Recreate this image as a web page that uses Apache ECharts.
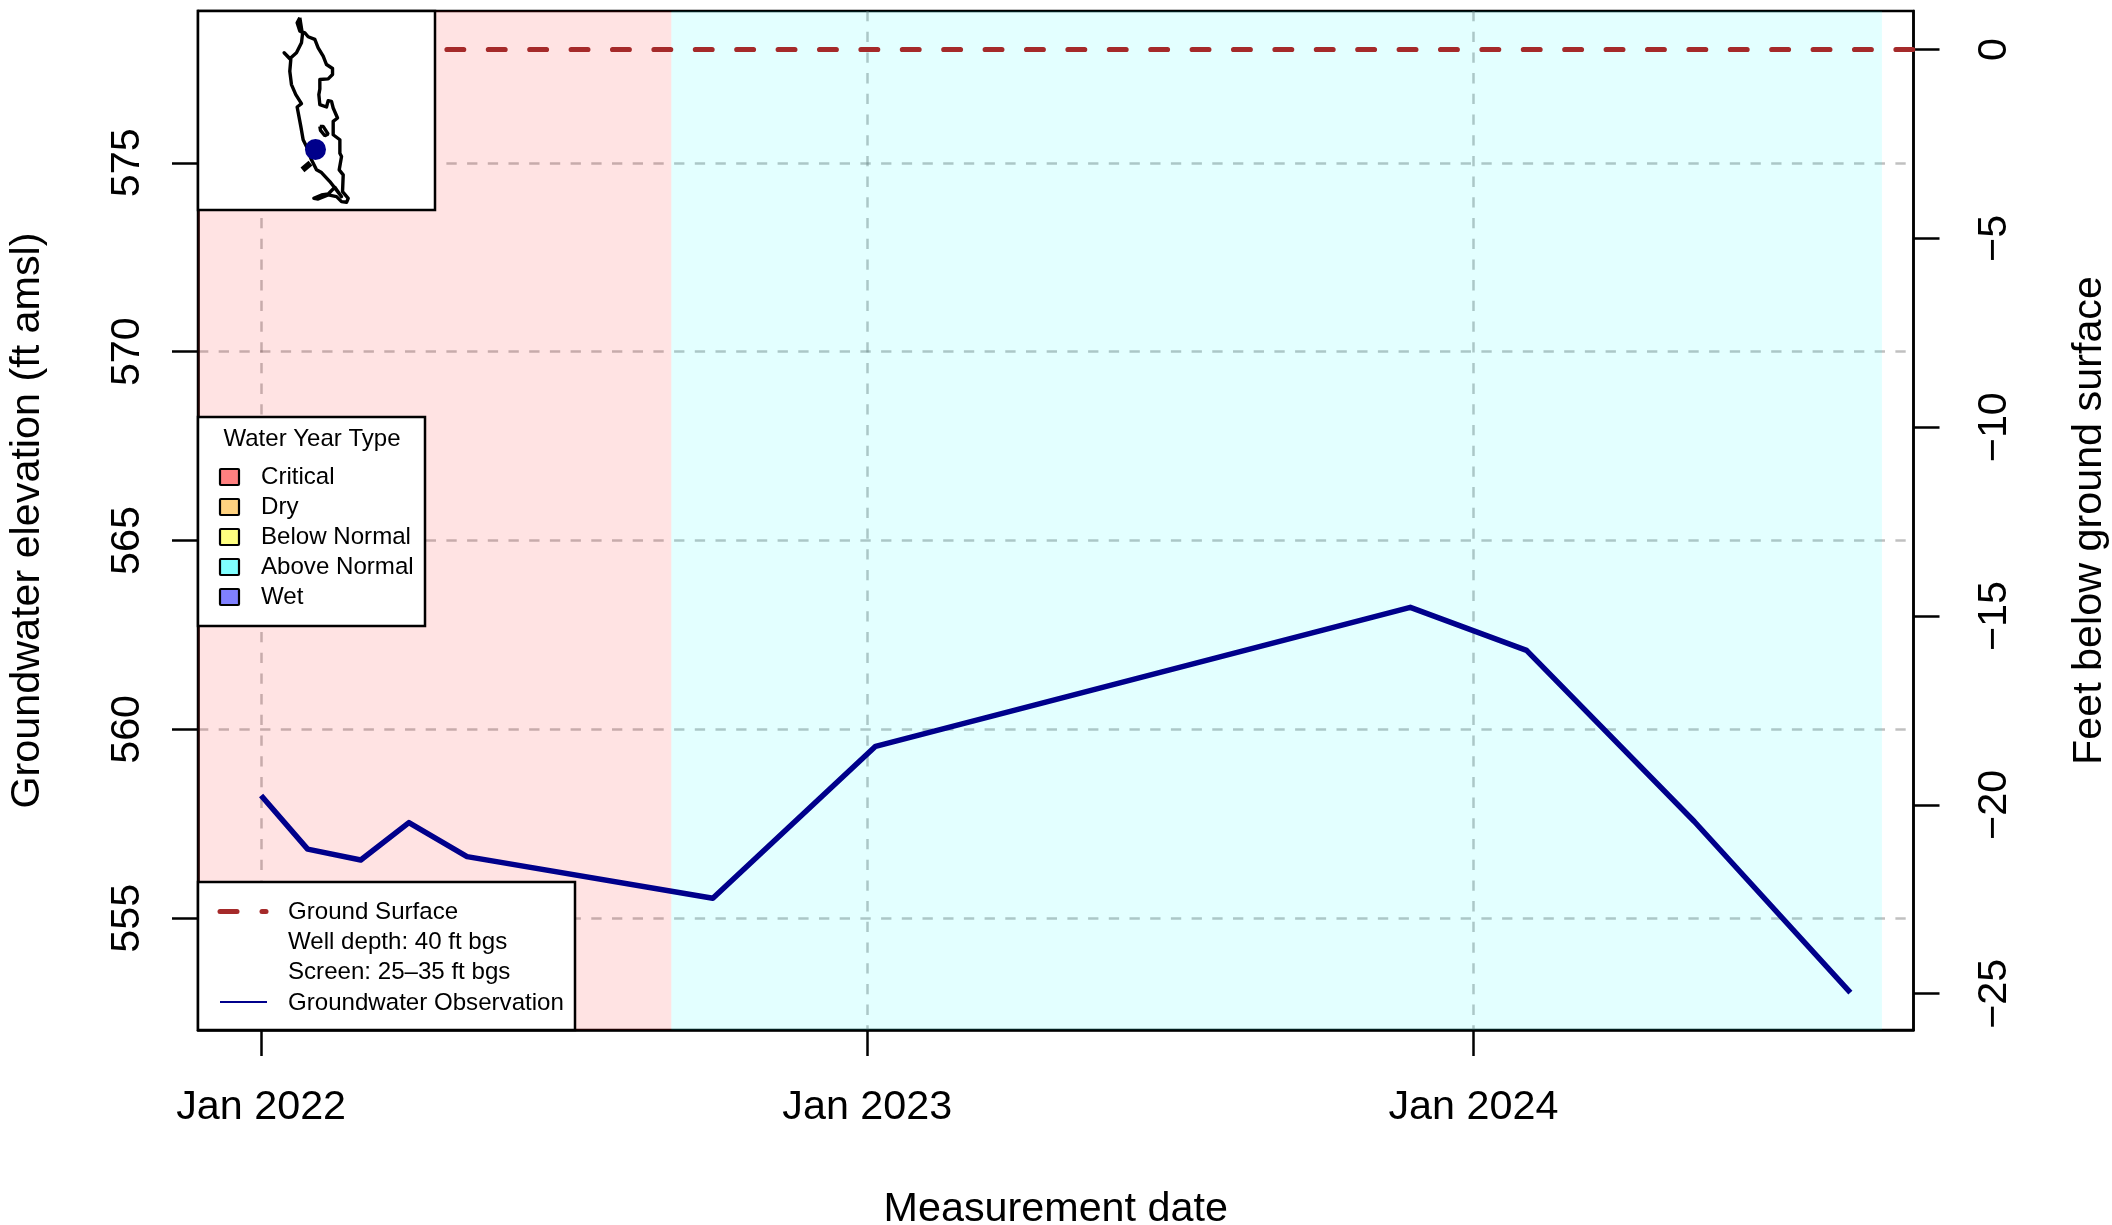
<!DOCTYPE html>
<html><head><meta charset="utf-8">
<style>html,body{margin:0;padding:0;background:#fff}#c{width:2112px;height:1225px}</style>
<script src="https://cdn.jsdelivr.net/npm/echarts@6/dist/echarts.min.js"></script>
</head><body><div id="c"></div>
<script>
const obsDates=['2022-01-01','2022-01-29','2022-03-02','2022-03-31','2022-05-05','2022-09-30','2023-01-06','2023-11-24','2024-02-02','2024-05-13','2024-08-15'];
const obsElev=[558.25,556.83,556.54,557.53,556.63,555.53,559.55,563.23,562.09,557.56,553.03];
const xStart='2021-11-24', xEnd='2024-09-22';
const surfaceStart='2022-03-29';
const criticalEnd='2022-09-05', aboveNormalEnd='2024-09-03';
const xTickDates=['2022-01-01','2023-01-01','2024-01-01'];
const xTickLabels=['Jan 2022','Jan 2023','Jan 2024'];
const leftTicks=[555,560,565,570,575];
const rightTicks=[-25,-20,-15,-10,-5,0];
const yMin=552.04,yMax=579.02,surfaceElev=578;
const wyNames=['Critical','Dry','Below Normal','Above Normal','Wet'];
const wyColors=['#FF8080','#FFD280','#FFFF80','#80FFFF','#8080FF'];
const mapX=[330,322,330,345,355,375,385,400,410,428,428,415,390,390,395,387,390,410,415,425,430,443,430,430,450,450,455,448,460,458,475,470,455,440,415,385,372,395,415,435,455,420,395,380,365,350,340,333,322,335,318,305,300,303,283,300,320,335,338,330];
const mapY=[55,70,95,100,112,120,145,170,195,207,225,238,240,268,272,285,315,322,303,305,325,355,365,405,420,460,470,510,525,575,595,607,605,590,585,597,595,585,582,562,590,545,518,510,480,440,420,380,322,312,285,255,215,180,160,178,160,130,105,55];
const lakeX=[390,400,415,405,392,390], lakeY=[380,380,403,408,392,380];
const stubX=[338,362], stubY=[510,490];
const wellX=377, wellY=449;

const t=s=>Date.UTC(+s.slice(0,4),+s.slice(5,7)-1,+s.slice(8,10));
const FONT='"Liberation Sans"';
const pts=(x,y)=>x.map((v,i)=>[v,y[i]]);
const txt=(x,y,s,size,align)=>({type:'text',z:21,style:{x,y,text:s,fontFamily:FONT,fontSize:size||24,fill:'#000',textAlign:align||'left',textVerticalAlign:'middle'}});
const box=(x,y,w,h,z)=>({type:'rect',z:z||20,shape:{x,y,width:w,height:h},style:{fill:'#fff',stroke:'#000',lineWidth:2.5}});
const rowsY=[477,507,537,567,597];
const g=[box(198,417,227,209),txt(312,439.5,'Water Year Type',24,'center')];
wyNames.forEach((n,i)=>{
  g.push({type:'rect',z:21,shape:{x:220,y:rowsY[i]-8,width:19,height:16,r:1},style:{fill:wyColors[i],stroke:'#000',lineWidth:2.2}});
  g.push(txt(261,rowsY[i],n,24.1));
});
g.push(box(198,882,377,148));
g.push({type:'line',z:21,shape:{x1:220,y1:911.5,x2:237,y2:911.5},style:{stroke:'#A52A2A',lineWidth:5,lineCap:'round'}});
g.push({type:'line',z:21,shape:{x1:262,y1:911.5,x2:266,y2:911.5},style:{stroke:'#A52A2A',lineWidth:5,lineCap:'round'}});
g.push({type:'line',z:21,shape:{x1:220,y1:1002,x2:267,y2:1002},style:{stroke:'#00008B',lineWidth:2.2}});
[['Ground Surface',912],['Well depth: 40 ft bgs',942.5],['Screen: 25\u201335 ft bgs',972.5],['Groundwater Observation',1003]].forEach(a=>g.push(txt(288,a[1],a[0],24.1)));
g.push(box(198,11,237,199,5));

const axisLine={show:true,onZero:false,lineStyle:{color:'#000',width:2.5}};
const axisTick={show:true,length:26,lineStyle:{color:'#000',width:2.5}};
const gridLine={show:true,lineStyle:{color:'rgba(115,115,115,0.45)',width:2.5,type:[10.3,10.4]}};
const opt={
 animation:false,backgroundColor:'#fff',
 grid:[{left:198,top:11,width:1715.5,height:1019,show:true,backgroundColor:'transparent',borderColor:'#000',borderWidth:2.5,containLabel:false,outerBoundsMode:'none'},
       {left:198,top:11,width:237,height:199,show:false,outerBoundsMode:'none'}],
 graphic:{elements:g},
 xAxis:[
  {type:'value',gridIndex:0,min:t(xStart),max:t(xEnd),position:'bottom',
   axisLine:axisLine,axisTick:Object.assign({},axisTick,{customValues:xTickDates.map(t)}),
   axisLabel:{customValues:xTickDates.map(t),margin:57,fontFamily:FONT,fontSize:41.3,color:'#000',hideOverlap:false,showMinLabel:true,showMaxLabel:true,
     formatter:v=>{const i=xTickDates.map(t).indexOf(v);return i>=0?xTickLabels[i]:'';}},
   splitLine:gridLine,
   name:'Measurement date',nameLocation:'middle',nameGap:159,nameTextStyle:{fontFamily:FONT,fontSize:41.3,color:'#000'}},
  {type:'value',gridIndex:1,min:25,max:735,show:false}
 ],
 yAxis:[
  {type:'value',gridIndex:0,min:yMin,max:yMax,position:'left',
   axisLine:axisLine,axisTick:Object.assign({},axisTick,{customValues:leftTicks}),
   axisLabel:{customValues:leftTicks,rotate:90,margin:50,fontFamily:FONT,fontSize:41.3,color:'#000'},
   splitLine:gridLine,
   name:'Groundwater elevation (ft amsl)',nameLocation:'middle',nameGap:150,nameRotate:90,nameTextStyle:{fontFamily:FONT,fontSize:41.3,color:'#000'}},
  {type:'value',gridIndex:0,min:yMin-surfaceElev,max:yMax-surfaceElev,position:'right',
   axisLine:axisLine,axisTick:Object.assign({},axisTick,{customValues:rightTicks}),
   axisLabel:{customValues:rightTicks,rotate:90,margin:61,fontFamily:FONT,fontSize:41.3,color:'#000',formatter:v=>String(v).replace('-','\u2212')},
   splitLine:{show:false},
   name:'Feet below ground surface',nameLocation:'middle',nameGap:156,nameRotate:90,nameTextStyle:{fontFamily:FONT,fontSize:41.3,color:'#000'}},
  {type:'value',gridIndex:1,min:35,max:630,inverse:true,show:false}
 ],
 series:[
  {type:'line',name:'Water Year Type',xAxisIndex:0,yAxisIndex:0,data:[],silent:true,z:1,
   markArea:{silent:true,data:[
     [{xAxis:t(xStart),yAxis:yMin,itemStyle:{color:'rgba(255,0,0,0.11)'}},{xAxis:t(criticalEnd),yAxis:yMax}],
     [{xAxis:t(criticalEnd),yAxis:yMin,itemStyle:{color:'rgba(0,255,255,0.11)'}},{xAxis:t(aboveNormalEnd),yAxis:yMax}]
   ]}},
  {type:'line',name:'Ground Surface',xAxisIndex:0,yAxisIndex:1,z:3,symbol:'none',silent:true,
   data:[[t(surfaceStart),0],[t(xEnd),0]],lineStyle:{color:'#A52A2A',width:5.2,cap:'round',type:[16.7,24.7]}},
  {type:'line',name:'Groundwater Observation',xAxisIndex:0,yAxisIndex:0,z:4,symbol:'none',silent:true,
   data:obsDates.map((d,i)=>[t(d),obsElev[i]]),lineStyle:{color:'#00008B',width:5.5,join:'round'}},
  {type:'line',name:'Basin',xAxisIndex:1,yAxisIndex:2,z:8,symbol:'none',silent:true,data:pts(mapX,mapY),lineStyle:{color:'#000',width:3.4,join:'round'}},
  {type:'line',name:'Lake',xAxisIndex:1,yAxisIndex:2,z:8,symbol:'none',silent:true,data:pts(lakeX,lakeY),lineStyle:{color:'#000',width:3.4}},
  {type:'line',name:'Stub',xAxisIndex:1,yAxisIndex:2,z:8,symbol:'none',silent:true,data:pts(stubX,stubY),lineStyle:{color:'#000',width:6}},
  {type:'scatter',name:'Well',xAxisIndex:1,yAxisIndex:2,z:9,symbol:'circle',symbolSize:21,silent:true,data:[[wellX,wellY]],itemStyle:{color:'#00008B',opacity:1}}
 ]
};
echarts.init(document.getElementById('c'),null,{renderer:'canvas'}).setOption(opt);
</script></body></html>
